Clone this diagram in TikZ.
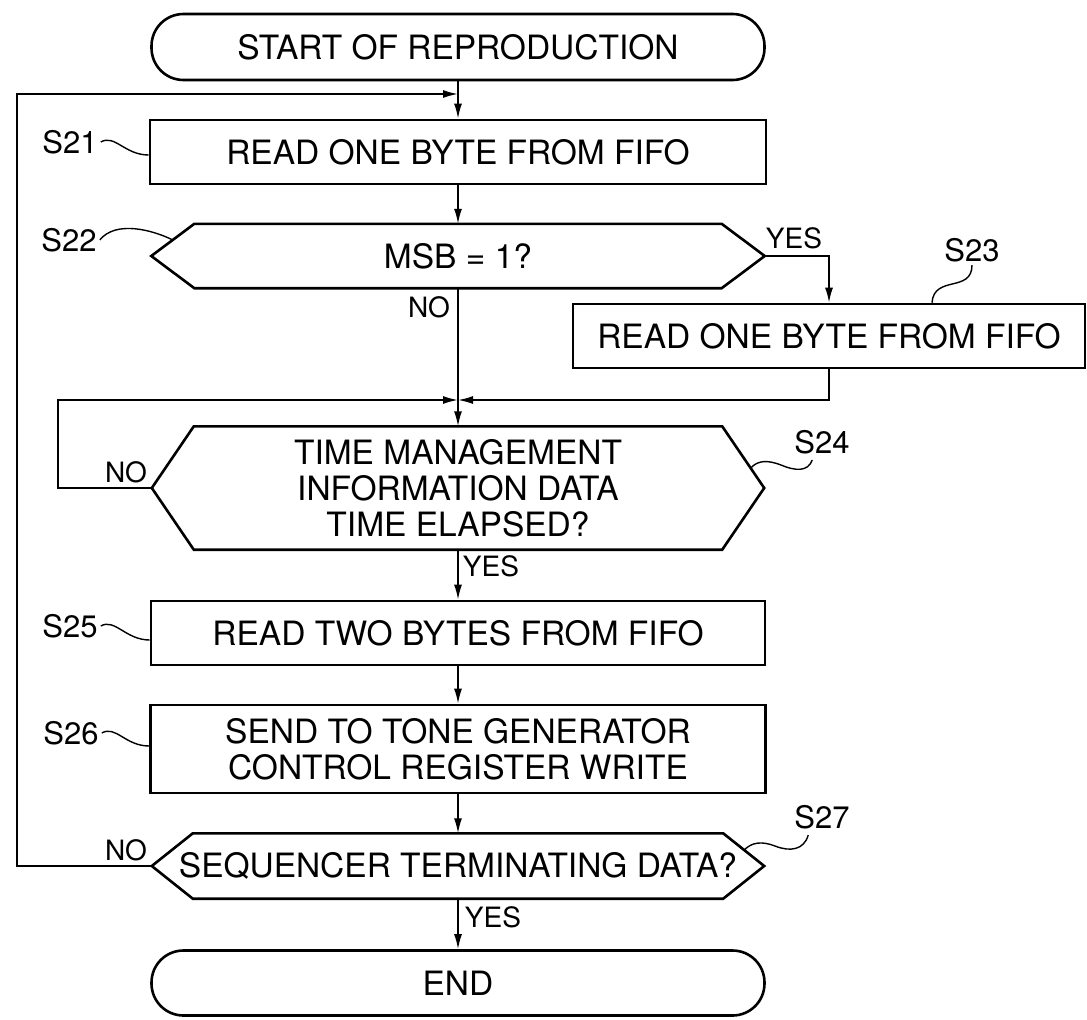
\documentclass[tikz,border=0pt]{standalone}
\usepackage{fontspec}
\setmainfont{TeX Gyre Heros}
\usetikzlibrary{arrows.meta,calc}
\newcommand{\mainfs}{\fontsize{33.5}{36}\selectfont}
\newcommand{\lblfs}{\fontsize{31}{34}\selectfont}
\newcommand{\ynfs}{\fontsize{28}{30}\selectfont}
\newcommand{\hexoutline}[2]{\draw[outline, line join=miter] (#1.west) -- ([xshift=#2]#1.north west) -- ([xshift=-#2]#1.north east) -- (#1.east) -- ([xshift=-#2]#1.south east) -- ([xshift=#2]#1.south west) -- cycle;}
\begin{document}
\begin{tikzpicture}[x=1pt,y=-1pt,
  outline/.style={draw=black, line width=2.6pt},
  procbox/.style={outline, rectangle, inner sep=0pt, align=center, font=\mainfs},
  termbox/.style={outline, rectangle, rounded corners=32pt, inner sep=0pt, font=\mainfs},
  hexnode/.style={rectangle, inner sep=0pt, align=center, font=\mainfs},
  conn/.style={line width=1.7pt},
  arr/.style={conn, -{Latex[length=15pt,width=8pt]}},
  leader/.style={line width=1.4pt},
  steplbl/.style={inner sep=0pt, font=\lblfs},
  yn/.style={inner sep=0pt, font=\ynfs}]
\useasboundingbox[fill=white] (0,0) rectangle (1087,1020);

% shapes
\node[termbox, minimum width=613pt, minimum height=66pt] (start) at (458,47) {START OF REPRODUCTION};
\node[procbox, minimum width=616pt, minimum height=64pt] (s21) at (458,152) {READ ONE BYTE FROM FIFO};
\node[hexnode, minimum width=613pt, minimum height=64pt] (s22) at (458,256) {MSB = 1?};
\node[procbox, minimum width=512pt, minimum height=64pt] (s23) at (829,336) {READ ONE BYTE FROM FIFO};
\node[hexnode, minimum width=612pt, minimum height=123pt] (s24) at (458,488) {TIME MANAGEMENT\\INFORMATION DATA\\TIME ELAPSED?};
\node[procbox, minimum width=614pt, minimum height=64pt] (s25) at (458,633) {READ TWO BYTES FROM FIFO};
\node[procbox, minimum width=615pt, minimum height=88pt] (s26) at (458,749) {SEND TO TONE GENERATOR\\CONTROL REGISTER WRITE};
\node[hexnode, minimum width=612pt, minimum height=65pt] (s27) at (458,866) {SEQUENCER TERMINATING DATA?};
\node[termbox, minimum width=613pt, minimum height=65pt] (end) at (458,983) {END};
\hexoutline{s22}{43pt}
\hexoutline{s24}{42pt}
\hexoutline{s27}{41pt}

% step labels
\node[steplbl] (l21) at (70,142) {S21};
\node[steplbl] (l22) at (69,240) {S22};
\node[steplbl] (l23) at (972,250) {S23};
\node[steplbl] (l24) at (822,442) {S24};
\node[steplbl] (l25) at (70,626) {S25};
\node[steplbl] (l26) at (71,733) {S26};
\node[steplbl] (l27) at (822,817) {S27};

% yes / no labels
\node[yn] (no22) at (429,307) {NO};
\node[yn] (yes22) at (794,238) {YES};
\node[yn] (no24) at (126,472) {NO};
\node[yn] (yes24) at (491,566) {YES};
\node[yn] (no27) at (126,850) {NO};
\node[yn] (yes27) at (493,917) {YES};

% junctions
\coordinate (lx) at (17,0);
\coordinate (nx) at (58,0);
\coordinate (j1) at (458,94);
\coordinate (j2) at (458,400);

% connectors
\draw[arr] (start.south) -- (s21.north);
\draw[arr] (s27.west) -- (s27.west -| lx) |- (j1);
\draw[arr] (s21.south) -- (s22.north);
\draw[arr] (s22.east) -| (s23.north);
\draw[conn] (s22.south) -- (j2);
\draw[arr] (s23.south) |- (j2);
\draw[arr] (s24.west) -- (s24.west -| nx) |- (j2);
\draw[arr] (j2) -- (s24.north);
\draw[arr] (s24.south) -- (s25.north);
\draw[arr] (s25.south) -- (s26.north);
\draw[arr] (s26.south) -- (s27.north);
\draw[arr] (s27.south) -- (end.north);

% leaders
\draw[leader] ([xshift=3pt]l21.east) .. controls +(14,-8) and +(-24,0) .. ([yshift=-3pt]s21.west);
\draw[leader] ([xshift=3pt]l22.east) .. controls +(16,-20) and +(-20,-10) .. ([xshift=21.5pt,yshift=16pt]s22.west);
\draw[leader] ([yshift=-3pt]l23.south) .. controls +(0,28) and +(2,-28) .. ([xshift=103pt]s23.north);
\draw[leader] ([xshift=-13.5pt,yshift=20pt]s24.east) .. controls (758,460) and (768,460) .. (781,465) .. controls (795,471) and (808,472) .. ([xshift=18pt,yshift=-6pt]l24.south west);
\draw[leader] ([xshift=3pt]l25.east) .. controls +(14,-8) and +(-24,0) .. ([yshift=-7pt]s25.west);
\draw[leader] ([xshift=3pt]l26.east) .. controls +(14,-8) and +(-24,0) .. ([yshift=3pt]s26.west);
\draw[leader] ([xshift=-20pt,yshift=16pt]s27.east) .. controls (752,842) and (762,841) .. (775,846) .. controls (790,852) and (804,850) .. ([xshift=14pt,yshift=-6pt]l27.south west);
\end{tikzpicture}
\end{document}
